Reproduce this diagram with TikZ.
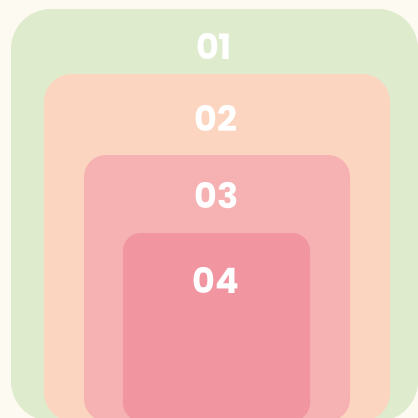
\documentclass[tikz,border=0pt]{standalone}
\usepackage{fontspec}
\setmainfont{Poppins}
\definecolor{bgc}{HTML}{FDFBF1}
\definecolor{lvlA}{HTML}{DFEBCD}
\definecolor{lvlB}{HTML}{FBD5BF}
\definecolor{lvlC}{HTML}{F6B1B3}
\definecolor{lvlD}{HTML}{F196A1}
\begin{document}
\begin{tikzpicture}[x=1pt,y=-1pt,
  lbl/.style={text=white,font=\fontsize{35}{35}\selectfont\bfseries,inner sep=0pt,anchor=center}]
\useasboundingbox (0,0) rectangle (418,418);
\clip (0,0) rectangle (418,418);
\fill[bgc] (0,0) rectangle (418,418);
\fill[lvlA,rounded corners=40] (11,9) rectangle (418,421);
\fill[lvlB,rounded corners=28] (44,74) rectangle (390,421);
\fill[lvlC,rounded corners=22] (84,155) rectangle (350,421);
\fill[lvlD,rounded corners=18] (123,233) rectangle (310,421);
\node[lbl] (t1) at (214,46) {01};
\node[lbl] (t2) at (216,118) {02};
\node[lbl] (t3) at (216.5,196) {03};
\node[lbl] (t4) at (216,280) {04};
\end{tikzpicture}
\end{document}
